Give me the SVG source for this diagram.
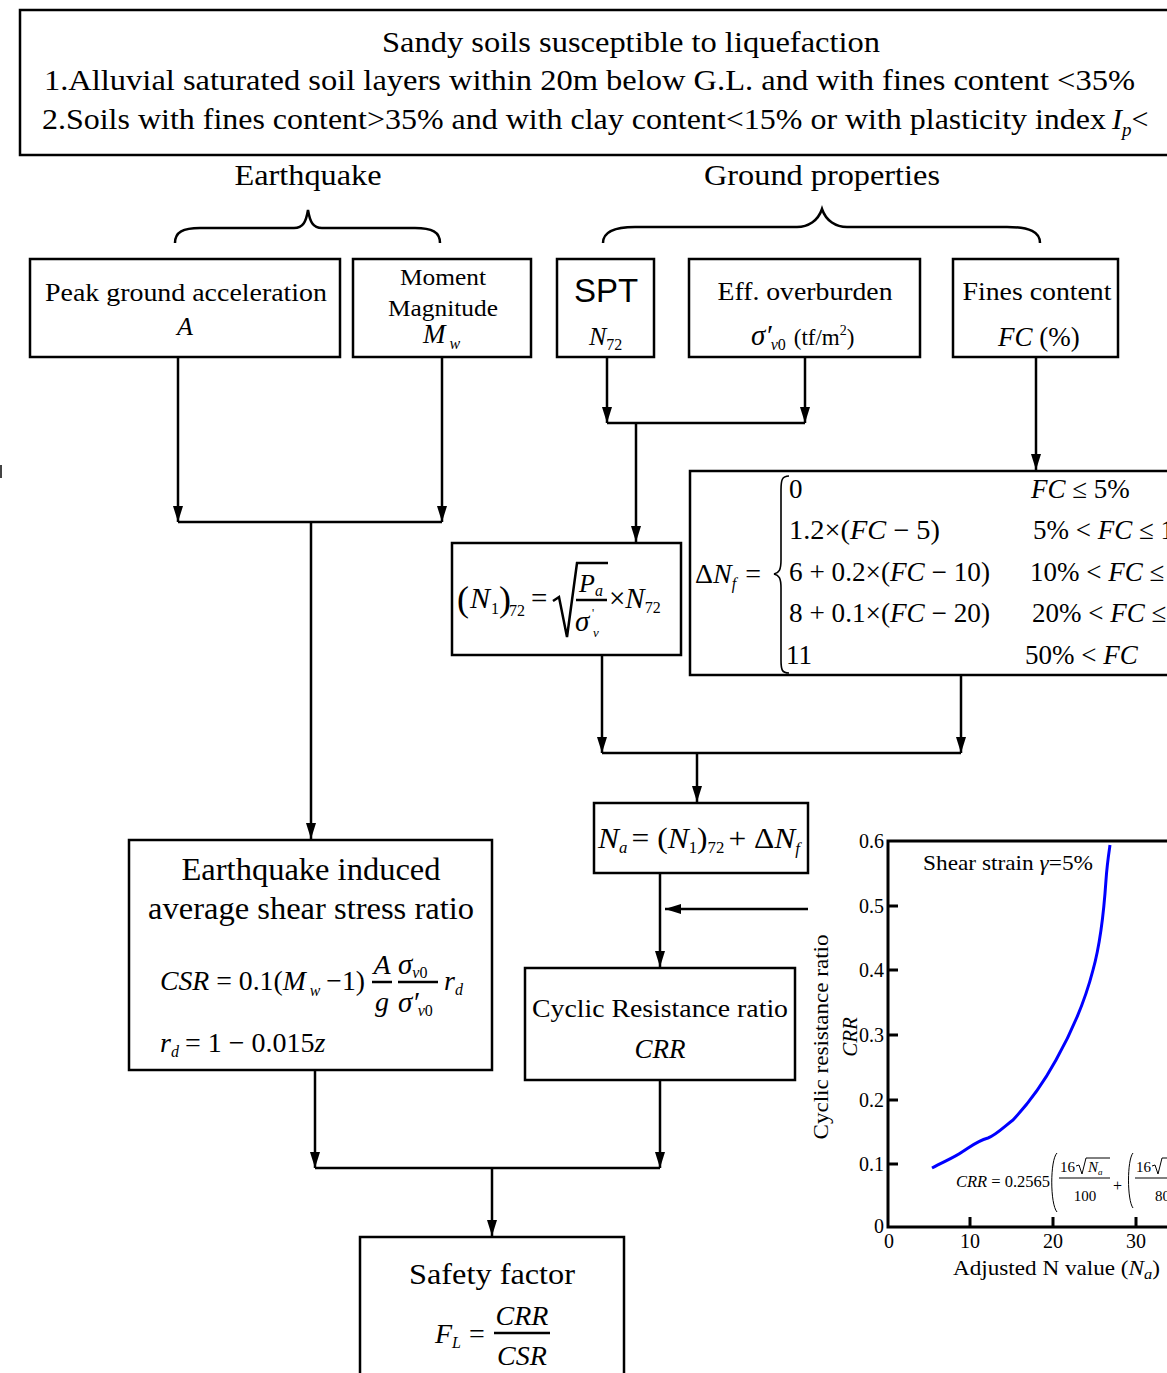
<svg xmlns="http://www.w3.org/2000/svg" width="1167" height="1373" viewBox="0 0 1167 1373">
<defs>
<marker id="ah" viewBox="0 0 16 10" refX="16" refY="5" markerWidth="16" markerHeight="10" markerUnits="userSpaceOnUse" orient="auto">
<path d="M0,0 L16,5 L0,10 z" fill="#000"/>
</marker>
</defs>
<style>
text{font-family:"Liberation Serif","Times New Roman",serif;fill:#000}
.box{fill:#fff;stroke:#000;stroke-width:2.5}
.ln{fill:none;stroke:#000;stroke-width:2.5}
.ar{fill:none;stroke:#000;stroke-width:2.5;marker-end:url(#ah)}
.i{font-style:italic}
.c{text-anchor:middle}
.sub{font-size:16px}
.ax{fill:none;stroke:#000;stroke-width:3}
.tk{font-size:20px}
</style>
<rect width="1167" height="1373" fill="#fff"/>
<line x1="1" y1="465" x2="1" y2="478" stroke="#444" stroke-width="2"/>

<g id="criteria">
<rect class="box" x="20" y="10" width="1160" height="145"/>
<text x="631" y="52" class="c" font-size="30" textLength="498" lengthAdjust="spacingAndGlyphs">Sandy soils susceptible to liquefaction</text>
<text x="44" y="90" font-size="30" textLength="1091" lengthAdjust="spacingAndGlyphs">1.Alluvial saturated soil layers within 20m below G.L. and with fines content &lt;35%</text>
<text x="42" y="129" font-size="30" textLength="1064" lengthAdjust="spacingAndGlyphs">2.Soils with fines content&gt;35% and with clay content&lt;15% or with plasticity index</text>
<text x="1112" y="129" font-size="30"><tspan class="i">I</tspan><tspan class="i" font-size="19" dy="7">p</tspan><tspan dy="-7">&lt;</tspan></text>
</g>

<g id="earthquake-group">
<text x="308" y="185" class="c" font-size="30" textLength="147" lengthAdjust="spacingAndGlyphs">Earthquake</text>
<path class="ln" d="M175,243 C175,232 183,228 200,228 L294,228 C303,228 306,222 308,210 C310,222 313,228 322,228 L415,228 C432,228 440,232 440,243"/>
</g>
<g id="ground-group">
<text x="822" y="185" class="c" font-size="30" textLength="236" lengthAdjust="spacingAndGlyphs">Ground properties</text>
<path class="ln" d="M603,243 C603,232 613,227 635,227 L797,227 C808,227 818,221 822,209 C826,221 836,227 847,227 L1007,227 C1030,227 1040,232 1040,243"/>
</g>

<g id="pga">
<rect class="box" x="30" y="259" width="310" height="98"/>
<text x="186" y="301" class="c" font-size="26" textLength="282" lengthAdjust="spacingAndGlyphs">Peak ground acceleration</text>
<text x="185" y="335" class="c i" font-size="26">A</text>
</g>
<g id="mw">
<rect class="box" x="353" y="259" width="178" height="98"/>
<text x="443" y="285" class="c" font-size="24" textLength="86" lengthAdjust="spacingAndGlyphs">Moment</text>
<text x="443" y="316" class="c" font-size="24" textLength="110" lengthAdjust="spacingAndGlyphs">Magnitude</text>
<text x="423" y="343" class="i" font-size="27">M<tspan class="sub" dx="4" dy="6">w</tspan></text>
</g>
<g id="spt">
<rect class="box" x="557" y="259" width="97" height="98"/>
<text x="606" y="302" class="c" font-size="33" style="font-family:'Liberation Sans',Arial,sans-serif">SPT</text>
<text x="589" y="345" class="i" font-size="26">N<tspan class="sub" font-style="normal" dy="5">72</tspan></text>
</g>
<g id="eff">
<rect class="box" x="689" y="259" width="231" height="98"/>
<text x="805" y="300" class="c" font-size="26" textLength="175" lengthAdjust="spacingAndGlyphs">Eff. overburden</text>
<text x="751" y="345" font-size="29" class="i">σ′<tspan class="sub" dx="-1" dy="5">v</tspan><tspan class="sub" font-style="normal">0</tspan><tspan font-size="23" dx="8" dy="-5" font-style="normal">(tf/m</tspan><tspan font-size="14" dy="-10" font-style="normal">2</tspan><tspan font-size="23" dy="10" font-style="normal">)</tspan></text>
</g>
<g id="fc">
<rect class="box" x="953" y="259" width="165" height="98"/>
<text x="1037" y="300" class="c" font-size="26" textLength="149" lengthAdjust="spacingAndGlyphs">Fines content</text>
<text x="998" y="346" font-size="27"><tspan class="i">FC</tspan> (%)</text>
</g>

<g id="connectors">
<line class="ar" x1="178" y1="357" x2="178" y2="522"/>
<line class="ar" x1="442" y1="357" x2="442" y2="522"/>
<line class="ln" x1="178" y1="522" x2="442" y2="522"/>
<line class="ar" x1="311" y1="522" x2="311" y2="839"/>
<line class="ar" x1="607" y1="357" x2="607" y2="423"/>
<line class="ar" x1="805" y1="357" x2="805" y2="423"/>
<line class="ln" x1="607" y1="423" x2="805" y2="423"/>
<line class="ar" x1="636" y1="423" x2="636" y2="542"/>
<line class="ar" x1="1036" y1="357" x2="1036" y2="470"/>
<line class="ar" x1="602" y1="655" x2="602" y2="753"/>
<line class="ar" x1="961" y1="675" x2="961" y2="753"/>
<line class="ln" x1="602" y1="753" x2="961" y2="753"/>
<line class="ar" x1="697" y1="753" x2="697" y2="802"/>
<line class="ar" x1="660" y1="873" x2="660" y2="967"/>
<line class="ar" x1="808" y1="909" x2="665" y2="909"/>
<line class="ar" x1="315" y1="1070" x2="315" y2="1168"/>
<line class="ar" x1="660" y1="1080" x2="660" y2="1168"/>
<line class="ln" x1="315" y1="1168" x2="660" y2="1168"/>
<line class="ar" x1="492" y1="1168" x2="492" y2="1236"/>
</g>

<g id="n1">
<rect class="box" x="452" y="543" width="229" height="112"/>
<text x="457" y="611" font-size="36">(</text>
<text x="470" y="608" font-size="30" class="i">N</text>
<text x="491" y="614" class="sub">1</text>
<text x="499" y="611" font-size="36">)</text>
<text x="509" y="616" class="sub">72</text>
<text x="531" y="608" font-size="29">=</text>
<path class="ln" stroke-width="1.6" d="M553,601 L559,597 L567,637 L577,563 L608,563"/>
<text x="579" y="592" font-size="26" class="i">P<tspan class="sub" dy="4">a</tspan></text>
<line class="ln" stroke-width="1.5" x1="576" y1="600" x2="607" y2="600"/>
<text x="575" y="631" font-size="29" class="i">σ</text>
<text x="592" y="617" font-size="12">'</text>
<text x="593" y="637" font-size="13" class="i">v</text>
<text x="609" y="608" font-size="29">×<tspan class="i">N</tspan><tspan class="sub" dy="5">72</tspan></text>
</g>

<g id="dnf">
<rect class="box" x="690" y="471" width="490" height="204"/>
<text x="695" y="583" font-size="28">Δ<tspan class="i">N</tspan><tspan class="i sub" dy="6">f</tspan><tspan dx="9" dy="-6">=</tspan></text>
<path fill="none" stroke="#000" stroke-width="1.6" d="M789,476 C782,476 781,480 781,490 L781,560 C781,570 779,573 774,574 C779,575 781,578 781,588 L781,660 C781,670 782,673 789,673"/>
<g font-size="27">
<text x="789" y="498">0</text>
<text x="789" y="539" textLength="151" lengthAdjust="spacingAndGlyphs">1.2×(<tspan class="i">FC</tspan> − 5)</text>
<text x="789" y="581" textLength="201" lengthAdjust="spacingAndGlyphs">6 + 0.2×(<tspan class="i">FC</tspan> − 10)</text>
<text x="789" y="622" textLength="201" lengthAdjust="spacingAndGlyphs">8 + 0.1×(<tspan class="i">FC</tspan> − 20)</text>
<text x="786" y="664">11</text>
<text x="1031" y="498"><tspan class="i">FC</tspan> ≤ 5%</text>
<text x="1033" y="539">5% &lt; <tspan class="i">FC</tspan> ≤ 1</text>
<text x="1030" y="581">10% &lt; <tspan class="i">FC</tspan> ≤</text>
<text x="1032" y="622">20% &lt; <tspan class="i">FC</tspan> ≤</text>
<text x="1025" y="664">50% &lt; <tspan class="i">FC</tspan></text>
</g>
</g>

<g id="na">
<rect class="box" x="594" y="803" width="214" height="70"/>
<text x="598" y="848" font-size="30" textLength="202" lengthAdjust="spacingAndGlyphs"><tspan class="i">N</tspan><tspan class="i sub" dy="5">a</tspan><tspan dx="4" dy="-5">= (</tspan><tspan class="i">N</tspan><tspan class="sub" dy="5">1</tspan><tspan dy="-5">)</tspan><tspan class="sub" dy="5">72</tspan><tspan dx="4" dy="-5">+ Δ</tspan><tspan class="i">N</tspan><tspan class="i sub" dy="6">f</tspan></text>
</g>

<g id="csr">
<rect class="box" x="129" y="840" width="363" height="230"/>
<text x="311" y="880" class="c" font-size="32" textLength="259" lengthAdjust="spacingAndGlyphs">Earthquake induced</text>
<text x="311" y="919" class="c" font-size="32" textLength="326" lengthAdjust="spacingAndGlyphs">average shear stress ratio</text>
<text x="160" y="990" font-size="28" textLength="205" lengthAdjust="spacingAndGlyphs"><tspan class="i">CSR</tspan> = 0.1(<tspan class="i">M</tspan><tspan class="i sub" dx="4" dy="6">w</tspan><tspan dx="6" dy="-6">−1)</tspan></text>
<text x="382" y="974" class="c i" font-size="28">A</text>
<line class="ln" stroke-width="1.5" x1="372" y1="982" x2="392" y2="982"/>
<text x="382" y="1011" class="c i" font-size="28">g</text>
<text x="398" y="974" class="i" font-size="29">σ<tspan class="sub" dy="4">v</tspan><tspan class="sub" font-style="normal">0</tspan></text>
<line class="ln" stroke-width="1.5" x1="398" y1="982" x2="438" y2="982"/>
<text x="398" y="1012" class="i" font-size="29">σ′<tspan class="sub" dx="-1" dy="4">v</tspan><tspan class="sub" font-style="normal">0</tspan></text>
<text x="444" y="990" class="i" font-size="28">r<tspan class="sub" dy="5">d</tspan></text>
<text x="160" y="1052" font-size="28"><tspan class="i">r</tspan><tspan class="i sub" dy="5">d</tspan><tspan dx="6" dy="-5">= 1 − 0.015</tspan><tspan class="i">z</tspan></text>
</g>

<g id="crr">
<rect class="box" x="525" y="968" width="270" height="112"/>
<text x="660" y="1017" class="c" font-size="26" textLength="256" lengthAdjust="spacingAndGlyphs">Cyclic Resistance ratio</text>
<text x="660" y="1058" class="c i" font-size="27">CRR</text>
</g>

<g id="fs">
<rect class="box" x="360" y="1237" width="264" height="145"/>
<text x="492" y="1284" class="c" font-size="30" textLength="166" lengthAdjust="spacingAndGlyphs">Safety factor</text>
<text x="435" y="1343" class="i" font-size="28">F<tspan class="sub" dy="5">L</tspan><tspan font-style="normal" dx="8" dy="-5">=</tspan></text>
<text x="522" y="1325" class="c i" font-size="28">CRR</text>
<line class="ln" stroke-width="1.5" x1="494" y1="1333" x2="550" y2="1333"/>
<text x="522" y="1365" class="c i" font-size="28">CSR</text>
</g>

<g id="chart">
<path class="ax" d="M1167,841 L888,841 L888,1227 L1167,1227"/>
<g stroke="#000" stroke-width="3">
<line x1="888" y1="906" x2="898" y2="906"/>
<line x1="888" y1="970" x2="898" y2="970"/>
<line x1="888" y1="1035" x2="898" y2="1035"/>
<line x1="888" y1="1100" x2="898" y2="1100"/>
<line x1="888" y1="1164" x2="898" y2="1164"/>
<line x1="970" y1="1227" x2="970" y2="1217"/>
<line x1="1053" y1="1227" x2="1053" y2="1217"/>
<line x1="1136" y1="1227" x2="1136" y2="1217"/>
</g>
<g class="tk" text-anchor="end">
<text x="884" y="848">0.6</text>
<text x="884" y="913">0.5</text>
<text x="884" y="977">0.4</text>
<text x="884" y="1042">0.3</text>
<text x="884" y="1107">0.2</text>
<text x="884" y="1171">0.1</text>
<text x="884" y="1233">0</text>
</g>
<g class="tk" text-anchor="middle">
<text x="889" y="1248">0</text>
<text x="970" y="1248">10</text>
<text x="1053" y="1248">20</text>
<text x="1136" y="1248">30</text>
</g>
<text x="953" y="1275" font-size="21" textLength="207" lengthAdjust="spacingAndGlyphs">Adjusted N value (<tspan class="i">N</tspan><tspan class="i" font-size="15" dy="4">a</tspan><tspan dy="-4">)</tspan></text>
<text transform="translate(828,1037) rotate(-90)" class="c" font-size="21" textLength="205" lengthAdjust="spacingAndGlyphs">Cyclic resistance ratio</text>
<text transform="translate(857,1037) rotate(-90)" class="c i" font-size="21">CRR</text>
<text x="923" y="870" font-size="21" textLength="170" lengthAdjust="spacingAndGlyphs">Shear strain <tspan class="i">γ</tspan>=5%</text>
<path fill="none" stroke="#0000ff" stroke-width="3" d="M932,1168 C945,1161 955,1157 962,1152 C970,1147 977,1141 988,1138 C996,1135 1005,1126 1013,1120 C1030,1102 1045,1080 1056,1060 C1070,1035 1084,1005 1093,970 C1100,945 1104,910 1106,880 C1107,865 1109,852 1110,845"/>
<text x="956" y="1187" font-size="16" textLength="94" lengthAdjust="spacingAndGlyphs"><tspan class="i">CRR</tspan> = 0.2565</text>
<path fill="none" stroke="#000" stroke-width="1" d="M1057,1153 C1050,1160 1050,1204 1057,1212"/>
<text x="1060" y="1172" font-size="15">16</text>
<path fill="none" stroke="#000" stroke-width="1" d="M1076,1166 L1079,1165 L1082,1174 L1086,1158 L1110,1158"/>
<text x="1088" y="1172" font-size="15" class="i">N<tspan font-size="9" dy="3">a</tspan></text>
<line stroke="#000" stroke-width="1" x1="1059" y1="1178" x2="1110" y2="1178"/>
<text x="1085" y="1201" font-size="15" text-anchor="middle">100</text>
<text x="1113" y="1191" font-size="16">+</text>
<path fill="none" stroke="#000" stroke-width="1" d="M1133,1153 C1127,1160 1127,1200 1133,1208"/>
<text x="1136" y="1172" font-size="15">16</text>
<path fill="none" stroke="#000" stroke-width="1" d="M1152,1166 L1155,1165 L1158,1174 L1162,1158 L1170,1158"/>
<line stroke="#000" stroke-width="1" x1="1135" y1="1178" x2="1170" y2="1178"/>
<text x="1155" y="1201" font-size="15">80</text>
</g>
</svg>
